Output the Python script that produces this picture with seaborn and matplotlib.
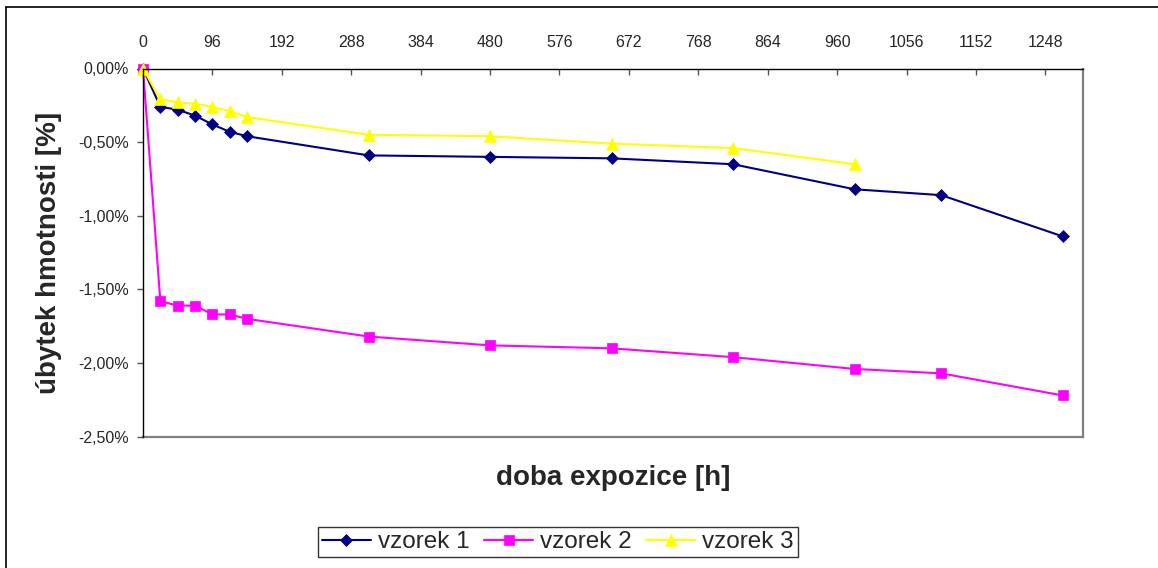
import matplotlib
matplotlib.use("Agg")
import matplotlib.pyplot as plt
from matplotlib.lines import Line2D
from matplotlib.ticker import FuncFormatter, MultipleLocator
import seaborn as sns
import pandas as pd

# exposure time [h]
hours = [0, 24, 48, 72, 96, 120, 144, 312, 480, 648, 816, 984, 1104, 1272]
# mass change [%]
vzorek_1 = [0.00, -0.26, -0.28, -0.32, -0.38, -0.43, -0.46, -0.59, -0.60,
            -0.61, -0.65, -0.82, -0.86, -1.14]
vzorek_2 = [0.00, -1.58, -1.61, -1.61, -1.67, -1.67, -1.70, -1.82, -1.88,
            -1.90, -1.96, -2.04, -2.07, -2.22]
vzorek_3 = [0.00, -0.21, -0.23, -0.24, -0.26, -0.29, -0.33, -0.45, -0.46,
            -0.51, -0.54, -0.65]

x_ticks = list(range(0, 1249, 96))

sns.set_style("white")
plt.rcParams["font.family"] = ["Liberation Sans", "DejaVu Sans"]

W, H = 1158, 568
fig = plt.figure(figsize=(W / 100, H / 100), dpi=100)
ax_left, ax_right, ax_top, ax_bottom = 143, 1083, 68.5, 436.7
ax = fig.add_axes([ax_left / W, 1 - ax_bottom / H,
                   (ax_right - ax_left) / W, (ax_bottom - ax_top) / H])

series = [
    ("vzorek 1", hours, vzorek_1, "#000080", "D", 6.5),
    ("vzorek 2", hours, vzorek_2, "#FF00FF", "s", 7.0),
    ("vzorek 3", hours[:len(vzorek_3)], vzorek_3, "#FFFF00", "^", 8.5),
]
for name, xs, ys, col, mk, ms in series:
    df = pd.DataFrame({"t": xs, "v": ys})
    sns.lineplot(data=df, x="t", y="v", ax=ax, color=col, marker=mk,
                 markersize=ms, markeredgecolor=col, markeredgewidth=0.5,
                 linewidth=1.5, label=name, clip_on=False)

ax.set_xlim(0, 1300)
ax.set_ylim(-2.5, 0)

ax.xaxis.set_ticks_position("top")
ax.xaxis.set_label_position("bottom")
ax.set_xticks(x_ticks)
ax.set_xticklabels([str(t) for t in x_ticks])
ax.tick_params(axis="x", direction="in", length=4, width=1, color="#555555",
               pad=13, labelsize=11.5, top=True, bottom=False)

ax.yaxis.set_major_locator(MultipleLocator(0.5))
ax.yaxis.set_major_formatter(
    FuncFormatter(lambda v, _: f"{v:.2f}%".replace(".", ",")))
ax.tick_params(axis="y", direction="out", length=4, width=1, color="#555555",
               pad=6, labelsize=11.5, left=True)

for side in ("left", "top"):
    ax.spines[side].set_color("black")
    ax.spines[side].set_linewidth(1.0)
for side in ("right", "bottom"):
    ax.spines[side].set_color("#808080")
    ax.spines[side].set_linewidth(1.6)
    ax.spines[side].set_zorder(0.5)
ax.grid(False)

ax.set_xlabel("")
ax.set_ylabel("")
fig.text((ax_left + ax_right) / 2 / W, 1 - 478 / H, "doba expozice [h]",
         ha="center", va="center", fontsize=20, fontweight="bold")
fig.text(49 / W, 1 - 253 / H, "úbytek hmotnosti [%]", rotation=90,
         ha="center", va="center", fontsize=20, fontweight="bold")

leg = ax.legend(loc="center", bbox_to_anchor=(558 / W, 1 - 542 / H),
                bbox_transform=fig.transFigure, ncol=3, fontsize=17.5,
                frameon=True, fancybox=False, handlelength=2.0,
                handletextpad=0.3, columnspacing=0.6, borderpad=0.15,
                borderaxespad=0)
leg.get_frame().set_edgecolor("black")
leg.get_frame().set_linewidth(1.0)

# chart area border (top and left edges)
fig.add_artist(Line2D([6 / W, 6 / W], [0, 1 - 7 / H], color="black",
                      linewidth=1.2, transform=fig.transFigure))
fig.add_artist(Line2D([6 / W, 1], [1 - 7 / H, 1 - 7 / H], color="black",
                      linewidth=1.2, transform=fig.transFigure))

fig.savefig("out.png", dpi=100)
